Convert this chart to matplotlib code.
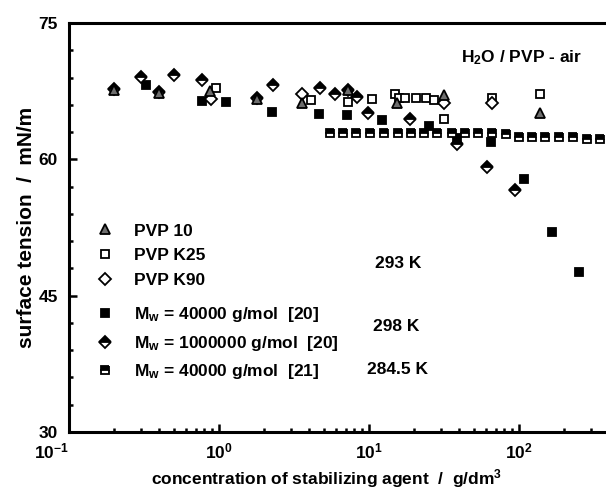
import numpy as np
import matplotlib
matplotlib.use("Agg")
import matplotlib.pyplot as plt
from matplotlib.ticker import FixedLocator, FixedFormatter, LogLocator, MultipleLocator, NullFormatter

plt.rcParams["font.family"] = ["Liberation Sans", "DejaVu Sans"]
plt.rcParams["font.weight"] = "bold"
plt.rcParams["mathtext.fontset"] = "custom"
plt.rcParams["mathtext.rm"] = "Liberation Sans:bold"
plt.rcParams["mathtext.bf"] = "Liberation Sans:bold"
plt.rcParams["mathtext.default"] = "bf"

# PVP 10 (grey triangles)
pvp10_x = [0.2, 0.4, 0.87, 1.78, 3.56, 7.3, 15.3, 31.8, 137]
pvp10_y = [67.6, 67.3, 67.5, 66.6, 66.2, 67.6, 66.2, 67.1, 65.1]

# PVP K25 (open squares)
k25_x = [0.95, 4.08, 7.28, 10.4, 14.9, 15.9, 17.4, 20.6, 23.9, 27.2, 31.8, 65.8, 137]
k25_y = [67.8, 66.5, 66.3, 66.6, 67.2, 66.8, 66.8, 66.8, 66.8, 66.5, 64.4, 66.8, 67.2]

# PVP K90 (open diamonds)
k90_x = [0.88, 3.56, 31.8, 65.8]
k90_y = [66.6, 67.2, 66.2, 66.2]

# Mw = 40000 g/mol [20] (filled squares)
m40_20_x = [0.326, 0.766, 1.11, 2.27, 4.65, 7.1, 12.3, 25.2, 38.5, 65, 108, 165, 252]
m40_20_y = [68.2, 66.45, 66.3, 65.2, 65.0, 64.9, 64.3, 63.7, 62.3, 61.9, 57.8, 52.0, 47.6]

# Mw = 1000000 g/mol [20] (half filled diamonds)
m1e6_x = [0.2, 0.3, 0.4, 0.5, 0.77, 1.78, 2.3, 4.7, 5.93, 7.3, 8.3, 9.8, 18.8, 38.5, 61, 94]
m1e6_y = [67.7, 69.1, 67.4, 69.3, 68.7, 66.7, 68.2, 67.8, 67.2, 67.6, 66.9, 65.1, 64.4, 61.7, 59.2, 56.6]

# Mw = 40000 g/mol [21] (half filled squares)
m40_21_x = [5.5, 6.71, 8.19, 10.2, 12.5, 15.5, 19.1, 23.3, 28.6, 35.6, 43.7, 53.3,
            65.8, 81.3, 99.3, 122, 150, 185, 228, 282, 347]
m40_21_y = [62.9, 62.9, 62.9, 62.9, 62.9, 62.9, 62.9, 62.9, 62.9, 62.9, 62.9, 62.9,
            62.9, 62.8, 62.5, 62.5, 62.5, 62.5, 62.5, 62.2, 62.2]

x_major = [0.1, 1, 10, 100]
x_labels = [r"$\mathbf{10^{-1}}$", r"$\mathbf{10^{0}}$", r"$\mathbf{10^{1}}$", r"$\mathbf{10^{2}}$"]
y_major = [30, 45, 60, 75]
y_labels = ["30", "45", "60", "75"]

fig = plt.figure(figsize=(6.06, 4.94), dpi=100)
ax = fig.add_axes([69 / 606, 1 - 432 / 494, 1 - 69 / 606, (432 - 23) / 494])

ms = 6
ew = 1.3
h1 = ax.plot(pvp10_x, pvp10_y, ls="none", marker="^", ms=ms + 1, mfc="#6e6e6e", mec="black",
             mew=ew, label="PVP 10", zorder=5)[0]
h2 = ax.plot(k25_x, k25_y, ls="none", marker="s", ms=ms, mfc="white", mec="black", mew=ew,
             label="PVP K25", zorder=4)[0]
h3 = ax.plot(k90_x, k90_y, ls="none", marker="D", ms=ms, mfc="white", mec="black", mew=ew,
             label="PVP K90", zorder=4)[0]
h4 = ax.plot(m40_20_x, m40_20_y, ls="none", marker="s", ms=ms, mfc="black", mec="black", mew=ew,
             label=r"M$_\mathbf{w}$ = 40000 g/mol  [20]", zorder=3)[0]
h5 = ax.plot(m1e6_x, m1e6_y, ls="none", marker="D", ms=ms, fillstyle="top", mfc="black",
             mfcalt="white", mec="black", mew=ew,
             label=r"M$_\mathbf{w}$ = 1000000 g/mol  [20]", zorder=3)[0]
h6 = ax.plot(m40_21_x, m40_21_y, ls="none", marker="s", ms=ms, fillstyle="top", mfc="black",
             mfcalt="white", mec="black", mew=ew,
             label=r"M$_\mathbf{w}$ = 40000 g/mol  [21]", zorder=3)[0]

ax.set_xscale("log")
ax.set_xlim(0.1, 10 ** ((606 - 69) / 150 - 1))
ax.set_ylim(30, 75)

ax.xaxis.set_major_locator(FixedLocator(x_major))
ax.xaxis.set_major_formatter(FixedFormatter(x_labels))
ax.xaxis.set_minor_locator(LogLocator(base=10, subs=np.arange(2, 10)))
ax.xaxis.set_minor_formatter(NullFormatter())
ax.yaxis.set_major_locator(FixedLocator(y_major))
ax.yaxis.set_major_formatter(FixedFormatter(y_labels))
ax.yaxis.set_minor_locator(MultipleLocator(3))

ax.tick_params(which="both", direction="in", width=1.8, labelsize=12.5)
ax.tick_params(which="major", length=6)
ax.tick_params(axis="x", which="major", pad=7)
ax.tick_params(axis="y", which="major", pad=8)
ax.tick_params(which="minor", length=3)
for s in ["left", "bottom", "top"]:
    ax.spines[s].set_linewidth(2.2)
ax.spines["right"].set_visible(False)

# first decade label sits left of its tick, as in the original
ax.xaxis.get_major_ticks()[0].label1.set_horizontalalignment("right")

ax.set_xlabel(r"concentration of stabilizing agent  /  g/dm$^\mathbf{3}$", fontsize=12.5,
              fontweight="bold")
ax.xaxis.set_label_coords(0.48, -0.085)
ax.set_ylabel("surface tension  /  mN/m", fontsize=15, fontweight="bold")
ax.yaxis.set_label_coords(-0.062, 0.5)

txt = dict(transform=ax.transAxes, va="center", fontsize=12.5, fontweight="bold")
ax.text(0.955, 0.915, r"H$_\mathbf{2}$O / PVP - air", ha="right", **txt)
ax.text(0.570, 0.413, "293 K", ha="left", **txt)
ax.text(0.566, 0.257, "298 K", ha="left", **txt)
ax.text(0.555, 0.152, "284.5 K", ha="left", **txt)

leg_kw = dict(loc="upper left", frameon=False, numpoints=1, handlelength=1.0,
              handletextpad=1.2, borderpad=0, borderaxespad=0, labelspacing=0.55,
              prop={"size": 12.5, "weight": "bold"})
leg1 = ax.legend(handles=[h1, h2, h3], bbox_to_anchor=(0.05, 0.51), **leg_kw)
ax.add_artist(leg1)
ax.legend(handles=[h4, h5, h6], bbox_to_anchor=(0.05, 0.31), **leg_kw)

fig.savefig("out.png", dpi=100)
